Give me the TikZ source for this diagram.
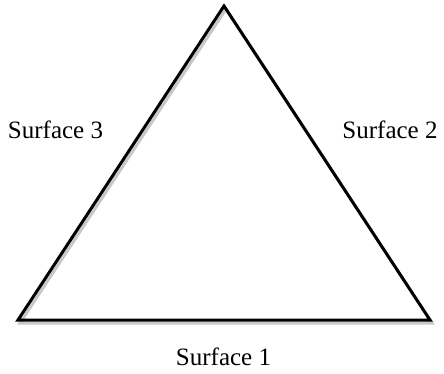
\documentclass[tikz,border=0pt]{standalone}
\usepackage{fontspec}
\setmainfont{Liberation Serif}
\usetikzlibrary{positioning,calc}
\definecolor{ShadeGray}{RGB}{200,200,200}
\tikzset{
  side/.style={draw=black,line width=3pt,line join=miter},
  shade/.style={draw=ShadeGray,line width=3pt,line join=miter},
  lab/.style={inner sep=0pt,font=\fontsize{25}{30}\selectfont},
}

\begin{document}
\begin{tikzpicture}[x=1pt,y=1pt]
\useasboundingbox (0,0) rectangle (444,373);
\coordinate (top) at (224,367);
\coordinate (bl) at (18,53);
\coordinate (br) at (430,53);
\draw[shade] ($(top)+(2,-3)$) -- ($(br)+(2,-3)$) -- ($(bl)+(2,-3)$) -- cycle;
\draw[side] (top) -- (br) -- (bl) -- cycle;
\node[lab] (s3) at (55.5,243) {Surface 3};
\node[lab] (s2) at (390,243) {Surface 2};
\node[lab] (s1) at (223.5,16) {Surface 1};
\end{tikzpicture}
\end{document}
